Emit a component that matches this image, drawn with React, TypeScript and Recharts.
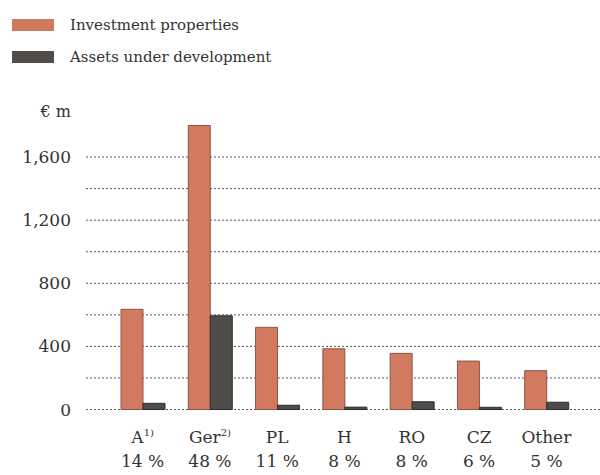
import React from "react";
import { BarChart, Bar, XAxis, YAxis, CartesianGrid, Legend } from "recharts";

const regions = ["A", "Ger", "PL", "H", "RO", "CZ", "Other"];
const notes = ["1)", "2)", "", "", "", "", ""];
const shares = ["14 %", "48 %", "11 %", "8 %", "8 %", "6 %", "5 %"];
const investmentProperties = [635, 1800, 521, 385, 356, 307, 246];
const assetsUnderDevelopment = [39, 594, 27, 15, 49, 14, 46];
const yTicks = [0, 200, 400, 600, 800, 1000, 1200, 1400, 1600];
const seriesNames = ["Investment properties", "Assets under development"];

const data = regions.map((region, i) => ({
  region,
  invest: investmentProperties[i],
  assets: assetsUnderDevelopment[i],
}));

const FONT = "'DejaVu Serif', serif";
const TEXT = "#333";

const RegionTick = (props: any) => {
  const { x, y, payload } = props;
  const i = regions.indexOf(payload.value);
  return (
    <g>
      <text x={x} y={y + 31} textAnchor="middle" fill={TEXT} fontSize={17} fontFamily={FONT}>
        {payload.value}
        {notes[i] ? (
          <tspan fontSize={10} dy={-7}>
            {notes[i]}
          </tspan>
        ) : null}
      </text>
      <text x={x} y={y + 55} textAnchor="middle" fill={TEXT} fontSize={17} fontFamily={FONT}>
        {shares[i]}
      </text>
    </g>
  );
};

const AxisUnit = (props: any) => {
  const { viewBox } = props;
  return (
    <text
      x={viewBox.x + viewBox.width - 15}
      y={viewBox.y - 9}
      textAnchor="end"
      fill={TEXT}
      fontSize={16}
      fontFamily={FONT}
    >
      € m
    </text>
  );
};

const renderLegend = (props: any) => {
  const items = [...props.payload].sort(
    (a: any, b: any) => seriesNames.indexOf(a.value) - seriesNames.indexOf(b.value)
  );
  return (
    <div>
      {items.map((entry: any) => (
        <div key={entry.value} style={{ display: "flex", alignItems: "center", height: 32 }}>
          <span
            style={{ width: 42, height: 12, background: entry.color, marginLeft: 12, marginRight: 16 }}
          />
          <span style={{ fontFamily: FONT, fontSize: 15, color: TEXT }}>{entry.value}</span>
        </div>
      ))}
    </div>
  );
};

export default function App() {
  return (
    <div style={{ position: "absolute", left: 0, top: 0, width: 600, height: 475, background: "#fff" }}>
      <BarChart
        width={600}
        height={475}
        data={data}
        margin={{ top: 125.5, right: 0, bottom: 0, left: 0 }}
        barSize={22}
        barGap={0}
      >
        <CartesianGrid
          vertical={false}
          horizontalValues={yTicks}
          stroke="#555"
          strokeDasharray="2 2"
        />
        <XAxis
          dataKey="region"
          height={65.5}
          axisLine={false}
          tickLine={false}
          tickSize={0}
          padding={{ left: 23, right: 20 }}
          interval={0}
          tick={<RegionTick />}
        />
        <YAxis
          width={86}
          domain={[0, 1800]}
          ticks={yTicks}
          axisLine={false}
          tickLine={false}
          tickSize={0}
          tickMargin={15}
          tickFormatter={(v: number) => (v % 400 === 0 ? v.toLocaleString("en-US") : "")}
          tick={{ fill: TEXT, fontSize: 17, fontFamily: FONT }}
          label={<AxisUnit />}
        />
        <Legend
          layout="horizontal"
          verticalAlign="middle"
          align="center"
          wrapperStyle={{ top: 9, left: 0, width: 400 }}
          content={renderLegend}
        />
        <Bar
          dataKey="invest"
          name={seriesNames[0]}
          fill="#d27a60"
          stroke="#8c5446"
          strokeWidth={1}
          isAnimationActive={false}
        />
        <Bar
          dataKey="assets"
          name={seriesNames[1]}
          fill="#4f4c49"
          stroke="#2e2c2a"
          strokeWidth={1}
          isAnimationActive={false}
        />
      </BarChart>
    </div>
  );
}
